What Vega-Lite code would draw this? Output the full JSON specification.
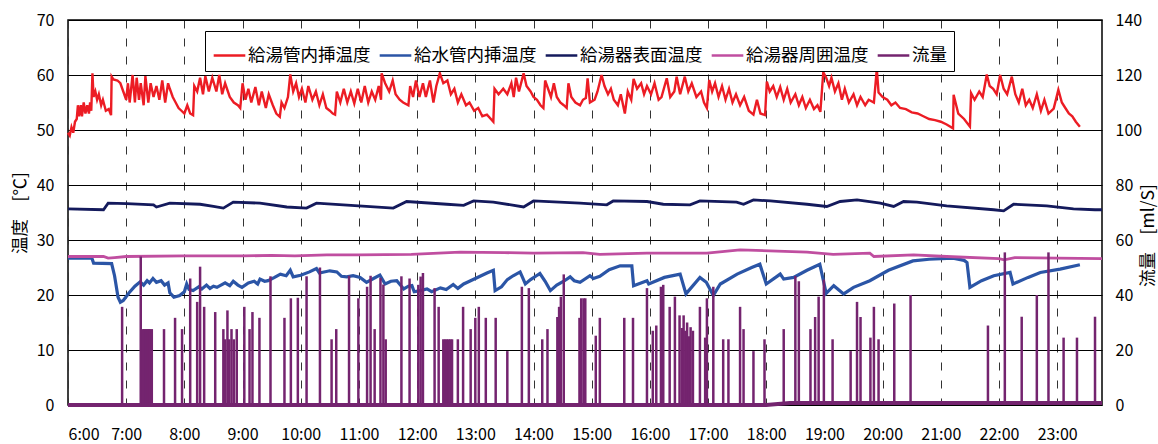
{
"$schema": "https://vega.github.io/schema/vega-lite/v6.json",
"width": 1034, "height": 385,
"autosize": {"type": "none"},
"padding": {"left": 68, "top": 20, "right": 56, "bottom": 39},
"background": "white",
"config": {
  "view": {"stroke": "black", "strokeWidth": 1.5},
  "font": "Noto Sans CJK JP",
  "axis": {"labelFont": "Noto Sans CJK JP", "titleFont": "Noto Sans CJK JP", "labelColor": "black", "titleColor": "black", "labelFontSize": 16, "titleFontSize": 17.5, "titleFontWeight": "normal", "domain": false, "ticks": false}
},
"datasets": {
"red": [
{"t":6.00,"v":49.5},{"t":6.03,"v":49.0},{"t":6.06,"v":50.5},{"t":6.09,"v":49.5},{"t":6.12,"v":51.5},{"t":6.15,"v":52},{"t":6.17,"v":54.5},{"t":6.19,"v":52.5},{"t":6.22,"v":54.5},{"t":6.24,"v":52.5},{"t":6.27,"v":55},{"t":6.30,"v":53},{"t":6.33,"v":54.5},{"t":6.36,"v":53},{"t":6.38,"v":55},{"t":6.40,"v":53.5},{"t":6.42,"v":60.3},{"t":6.44,"v":56},{"t":6.47,"v":57},{"t":6.50,"v":55.5},{"t":6.53,"v":56.5},{"t":6.57,"v":54.5},{"t":6.60,"v":55.5},{"t":6.65,"v":53.5},{"t":6.70,"v":53.8},{"t":6.74,"v":52.7},{"t":6.75,"v":59.7},{"t":6.78,"v":59.2},{"t":6.85,"v":59.0},{"t":6.90,"v":58.5},{"t":6.95,"v":57.0},{"t":7.00,"v":55.5},{"t":7.03,"v":58.5},{"t":7.06,"v":55},{"t":7.11,"v":60},{"t":7.15,"v":55},{"t":7.18,"v":59.5},{"t":7.22,"v":55.5},{"t":7.25,"v":58.5},{"t":7.30,"v":54.5},{"t":7.33,"v":59.8},{"t":7.38,"v":55},{"t":7.42,"v":58.5},{"t":7.47,"v":56},{"t":7.52,"v":58},{"t":7.57,"v":55.5},{"t":7.62,"v":59},{"t":7.67,"v":55},{"t":7.72,"v":58.5},{"t":7.75,"v":57.5},{"t":7.80,"v":56},{"t":7.85,"v":55},{"t":7.90,"v":54},{"t":7.95,"v":53.5},{"t":8.00,"v":53},{"t":8.05,"v":54.5},{"t":8.10,"v":53},{"t":8.15,"v":52.7},{"t":8.17,"v":58},{"t":8.22,"v":57},{"t":8.27,"v":59.5},{"t":8.32,"v":56.5},{"t":8.36,"v":59.8},{"t":8.42,"v":57},{"t":8.48,"v":59.5},{"t":8.55,"v":57},{"t":8.60,"v":60},{"t":8.65,"v":56.5},{"t":8.70,"v":58.5},{"t":8.78,"v":56},{"t":8.85,"v":55},{"t":8.92,"v":54.5},{"t":8.96,"v":54.0},{"t":9.00,"v":58.5},{"t":9.05,"v":55.5},{"t":9.10,"v":57.5},{"t":9.15,"v":55},{"t":9.22,"v":57.8},{"t":9.28,"v":54.5},{"t":9.33,"v":57},{"t":9.40,"v":54},{"t":9.45,"v":56.5},{"t":9.52,"v":54.5},{"t":9.58,"v":53},{"t":9.64,"v":52.4},{"t":9.67,"v":55},{"t":9.72,"v":54},{"t":9.78,"v":56},{"t":9.82,"v":60.1},{"t":9.87,"v":57},{"t":9.92,"v":58.5},{"t":9.97,"v":56},{"t":10.02,"v":57.5},{"t":10.08,"v":55},{"t":10.13,"v":58},{"t":10.20,"v":55.5},{"t":10.26,"v":57},{"t":10.32,"v":54.5},{"t":10.38,"v":56.5},{"t":10.44,"v":54},{"t":10.50,"v":53.5},{"t":10.55,"v":53},{"t":10.59,"v":52.8},{"t":10.62,"v":57},{"t":10.68,"v":55},{"t":10.74,"v":57.5},{"t":10.80,"v":55},{"t":10.86,"v":57},{"t":10.92,"v":54.8},{"t":10.98,"v":57.5},{"t":11.04,"v":55},{"t":11.10,"v":58},{"t":11.16,"v":55},{"t":11.22,"v":57},{"t":11.28,"v":55.5},{"t":11.34,"v":58},{"t":11.38,"v":55.5},{"t":11.39,"v":60.3},{"t":11.45,"v":58.5},{"t":11.52,"v":57},{"t":11.58,"v":59},{"t":11.63,"v":56.5},{"t":11.70,"v":55.5},{"t":11.76,"v":55},{"t":11.85,"v":54.5},{"t":11.88,"v":58},{"t":11.93,"v":56},{"t":11.98,"v":59},{"t":12.04,"v":56},{"t":12.10,"v":58.5},{"t":12.15,"v":56},{"t":12.22,"v":59},{"t":12.28,"v":55},{"t":12.33,"v":58},{"t":12.39,"v":60.3},{"t":12.45,"v":58.5},{"t":12.52,"v":59},{"t":12.58,"v":56.5},{"t":12.64,"v":57.5},{"t":12.70,"v":55},{"t":12.76,"v":56.5},{"t":12.84,"v":54.5},{"t":12.90,"v":55},{"t":12.98,"v":53.5},{"t":13.05,"v":54},{"t":13.12,"v":52.5},{"t":13.20,"v":52.8},{"t":13.31,"v":51.5},{"t":13.33,"v":57.5},{"t":13.40,"v":56.5},{"t":13.48,"v":57.5},{"t":13.55,"v":56.5},{"t":13.62,"v":58.5},{"t":13.66,"v":56},{"t":13.70,"v":59.5},{"t":13.75,"v":57},{"t":13.83,"v":60.3},{"t":13.88,"v":58},{"t":13.95,"v":57},{"t":14.00,"v":56},{"t":14.06,"v":55.5},{"t":14.12,"v":54.5},{"t":14.17,"v":54.0},{"t":14.20,"v":59},{"t":14.25,"v":57.5},{"t":14.30,"v":56},{"t":14.35,"v":58.5},{"t":14.40,"v":56},{"t":14.46,"v":55},{"t":14.52,"v":54.5},{"t":14.57,"v":54.0},{"t":14.60,"v":58.5},{"t":14.65,"v":56},{"t":14.72,"v":55},{"t":14.80,"v":54.5},{"t":14.85,"v":55.5},{"t":14.90,"v":55.8},{"t":14.93,"v":59.4},{"t":14.97,"v":55},{"t":15.05,"v":55.5},{"t":15.10,"v":57},{"t":15.17,"v":60},{"t":15.22,"v":58},{"t":15.28,"v":56.5},{"t":15.33,"v":57.5},{"t":15.38,"v":55.5},{"t":15.45,"v":54.5},{"t":15.50,"v":56.5},{"t":15.57,"v":53},{"t":15.62,"v":57},{"t":15.68,"v":55.5},{"t":15.72,"v":59.3},{"t":15.78,"v":57.5},{"t":15.85,"v":58.5},{"t":15.90,"v":56.5},{"t":15.95,"v":58},{"t":16.02,"v":56.5},{"t":16.08,"v":58.5},{"t":16.15,"v":55.5},{"t":16.20,"v":56},{"t":16.29,"v":59.4},{"t":16.35,"v":56},{"t":16.42,"v":57},{"t":16.46,"v":59.7},{"t":16.52,"v":56.5},{"t":16.60,"v":59.7},{"t":16.66,"v":57},{"t":16.72,"v":58.5},{"t":16.80,"v":56},{"t":16.88,"v":57},{"t":16.93,"v":55},{"t":16.98,"v":54},{"t":17.02,"v":59.1},{"t":17.07,"v":57},{"t":17.12,"v":58.5},{"t":17.18,"v":56},{"t":17.24,"v":58},{"t":17.30,"v":55.5},{"t":17.36,"v":57.5},{"t":17.42,"v":55},{"t":17.48,"v":56.5},{"t":17.55,"v":54.5},{"t":17.62,"v":56},{"t":17.70,"v":53.5},{"t":17.78,"v":52.8},{"t":17.84,"v":55.5},{"t":17.90,"v":53},{"t":17.98,"v":52.7},{"t":18.01,"v":58.8},{"t":18.06,"v":57},{"t":18.12,"v":58},{"t":18.18,"v":56},{"t":18.24,"v":57.8},{"t":18.30,"v":55.5},{"t":18.36,"v":57.5},{"t":18.42,"v":55},{"t":18.50,"v":56.5},{"t":18.56,"v":54.5},{"t":18.62,"v":56},{"t":18.68,"v":54},{"t":18.75,"v":55.5},{"t":18.82,"v":53.8},{"t":18.88,"v":54.5},{"t":18.93,"v":53.3},{"t":18.98,"v":60.5},{"t":19.03,"v":59.5},{"t":19.08,"v":58},{"t":19.12,"v":59.5},{"t":19.18,"v":57},{"t":19.24,"v":58.5},{"t":19.30,"v":55.5},{"t":19.35,"v":57.5},{"t":19.42,"v":55},{"t":19.50,"v":56.5},{"t":19.56,"v":54.5},{"t":19.62,"v":56},{"t":19.70,"v":54.5},{"t":19.76,"v":55.5},{"t":19.85,"v":55},{"t":19.90,"v":61.1},{"t":19.93,"v":56.8},{"t":20.00,"v":56},{"t":20.08,"v":55.5},{"t":20.15,"v":54.5},{"t":20.22,"v":55},{"t":20.30,"v":54},{"t":20.40,"v":53.8},{"t":20.50,"v":53.2},{"t":20.60,"v":53},{"t":20.70,"v":52.5},{"t":20.80,"v":52},{"t":20.90,"v":51.8},{"t":21.00,"v":51.5},{"t":21.10,"v":51},{"t":21.21,"v":50.3},{"t":21.22,"v":56.4},{"t":21.30,"v":53},{"t":21.40,"v":52},{"t":21.50,"v":50.6},{"t":21.52,"v":56.7},{"t":21.58,"v":55.5},{"t":21.66,"v":57},{"t":21.72,"v":56},{"t":21.79,"v":60.1},{"t":21.84,"v":58},{"t":21.90,"v":57.5},{"t":21.96,"v":56.5},{"t":22.02,"v":60},{"t":22.08,"v":57.5},{"t":22.14,"v":56.5},{"t":22.22,"v":59.7},{"t":22.28,"v":56.5},{"t":22.34,"v":55},{"t":22.40,"v":57.5},{"t":22.46,"v":54.5},{"t":22.52,"v":55.5},{"t":22.58,"v":54},{"t":22.65,"v":56.5},{"t":22.72,"v":53.5},{"t":22.78,"v":55.5},{"t":22.85,"v":53},{"t":22.94,"v":53.9},{"t":23.02,"v":57.3},{"t":23.08,"v":55},{"t":23.14,"v":54},{"t":23.20,"v":53},{"t":23.26,"v":52.5},{"t":23.32,"v":51.5},{"t":23.39,"v":50.6}
],
"blue": [
{"t":6.00,"v":26.7},{"t":6.41,"v":26.7},{"t":6.44,"v":25.8},{"t":6.75,"v":25.7},{"t":6.80,"v":23.5},{"t":6.86,"v":19.6},{"t":6.90,"v":18.7},{"t":6.95,"v":19.0},{"t":7.05,"v":20.4},{"t":7.15,"v":21.6},{"t":7.24,"v":22.4},{"t":7.30,"v":21.8},{"t":7.36,"v":22.6},{"t":7.40,"v":22.2},{"t":7.46,"v":23.0},{"t":7.52,"v":22.3},{"t":7.60,"v":22.6},{"t":7.66,"v":21.8},{"t":7.72,"v":22.2},{"t":7.75,"v":20.4},{"t":7.82,"v":19.6},{"t":7.92,"v":19.9},{"t":8.00,"v":20.6},{"t":8.04,"v":22.0},{"t":8.08,"v":21.0},{"t":8.15,"v":20.8},{"t":8.25,"v":21.5},{"t":8.30,"v":21.1},{"t":8.38,"v":21.8},{"t":8.44,"v":21.2},{"t":8.50,"v":21.6},{"t":8.56,"v":21.4},{"t":8.70,"v":22.2},{"t":8.78,"v":21.7},{"t":8.84,"v":22.5},{"t":8.92,"v":21.8},{"t":8.99,"v":21.4},{"t":9.10,"v":22.2},{"t":9.20,"v":22.5},{"t":9.26,"v":22.0},{"t":9.30,"v":22.9},{"t":9.38,"v":22.5},{"t":9.44,"v":22.6},{"t":9.55,"v":23.2},{"t":9.65,"v":23.8},{"t":9.75,"v":23.5},{"t":9.82,"v":24.5},{"t":9.87,"v":23.3},{"t":10.00,"v":23.6},{"t":10.15,"v":24.2},{"t":10.27,"v":24.8},{"t":10.32,"v":24.0},{"t":10.36,"v":24.1},{"t":10.50,"v":24.4},{"t":10.62,"v":24.2},{"t":10.70,"v":23.4},{"t":10.79,"v":23.3},{"t":10.90,"v":23.5},{"t":11.02,"v":23.2},{"t":11.13,"v":22.3},{"t":11.25,"v":23.0},{"t":11.36,"v":23.6},{"t":11.45,"v":22.0},{"t":11.55,"v":22.5},{"t":11.65,"v":22.6},{"t":11.77,"v":21.1},{"t":11.85,"v":21.6},{"t":11.91,"v":21.7},{"t":11.95,"v":20.6},{"t":12.05,"v":20.8},{"t":12.17,"v":21.1},{"t":12.25,"v":20.6},{"t":12.40,"v":21.3},{"t":12.50,"v":21.0},{"t":12.62,"v":21.9},{"t":12.70,"v":21.2},{"t":12.80,"v":22.0},{"t":12.90,"v":22.5},{"t":13.00,"v":23.0},{"t":13.10,"v":23.5},{"t":13.20,"v":24.0},{"t":13.31,"v":24.5},{"t":13.34,"v":20.8},{"t":13.45,"v":21.5},{"t":13.55,"v":22.8},{"t":13.65,"v":23.5},{"t":13.77,"v":24.2},{"t":13.86,"v":22.0},{"t":13.95,"v":22.8},{"t":14.05,"v":23.5},{"t":14.11,"v":23.9},{"t":14.20,"v":22.5},{"t":14.29,"v":20.8},{"t":14.40,"v":21.8},{"t":14.52,"v":22.5},{"t":14.63,"v":23.3},{"t":14.70,"v":22.6},{"t":14.80,"v":22.3},{"t":14.97,"v":23.5},{"t":15.03,"v":23.0},{"t":15.14,"v":23.4},{"t":15.30,"v":24.6},{"t":15.49,"v":25.3},{"t":15.69,"v":25.3},{"t":15.72,"v":21.7},{"t":15.95,"v":22.6},{"t":15.98,"v":22.0},{"t":16.25,"v":23.2},{"t":16.52,"v":23.8},{"t":16.62,"v":20.2},{"t":16.86,"v":23.2},{"t":16.97,"v":22.3},{"t":17.09,"v":19.9},{"t":17.21,"v":22.0},{"t":17.50,"v":23.8},{"t":17.75,"v":25.0},{"t":17.89,"v":25.6},{"t":18.00,"v":22.0},{"t":18.24,"v":23.8},{"t":18.30,"v":22.9},{"t":18.47,"v":23.2},{"t":18.70,"v":24.5},{"t":18.92,"v":25.6},{"t":19.03,"v":20.3},{"t":19.16,"v":21.7},{"t":19.33,"v":20.2},{"t":19.50,"v":21.4},{"t":19.78,"v":22.6},{"t":20.10,"v":24.5},{"t":20.52,"v":26.2},{"t":20.80,"v":26.5},{"t":21.21,"v":26.7},{"t":21.40,"v":26.3},{"t":21.45,"v":25.9},{"t":21.50,"v":21.4},{"t":21.70,"v":22.6},{"t":21.91,"v":23.5},{"t":22.19,"v":24.1},{"t":22.24,"v":22.0},{"t":22.50,"v":23.2},{"t":22.71,"v":24.1},{"t":23.05,"v":24.7},{"t":23.39,"v":25.5}
],
"navy": [
{"t":6.00,"v":35.65},{"t":6.61,"v":35.5},{"t":6.69,"v":36.7},{"t":7.01,"v":36.6},{"t":7.47,"v":36.4},{"t":7.52,"v":36.0},{"t":7.75,"v":36.7},{"t":8.27,"v":36.5},{"t":8.50,"v":36.1},{"t":8.67,"v":35.8},{"t":8.84,"v":36.9},{"t":9.30,"v":36.7},{"t":9.76,"v":36.0},{"t":10.10,"v":35.8},{"t":10.27,"v":36.7},{"t":10.73,"v":36.4},{"t":11.59,"v":35.8},{"t":11.82,"v":37.0},{"t":12.51,"v":36.5},{"t":12.80,"v":36.3},{"t":12.97,"v":37.1},{"t":13.31,"v":36.9},{"t":13.83,"v":36.0},{"t":14.00,"v":37.1},{"t":14.80,"v":36.7},{"t":15.26,"v":36.4},{"t":15.37,"v":37.1},{"t":15.95,"v":37.0},{"t":16.23,"v":36.5},{"t":16.69,"v":36.4},{"t":16.86,"v":37.1},{"t":17.49,"v":36.9},{"t":17.61,"v":36.5},{"t":17.78,"v":37.3},{"t":18.07,"v":37.1},{"t":18.70,"v":36.5},{"t":19.04,"v":36.1},{"t":19.27,"v":37.0},{"t":19.56,"v":37.3},{"t":19.96,"v":36.7},{"t":20.19,"v":36.1},{"t":20.36,"v":37.0},{"t":20.59,"v":36.9},{"t":21.10,"v":36.2},{"t":21.91,"v":35.5},{"t":22.08,"v":35.3},{"t":22.25,"v":36.5},{"t":22.82,"v":36.2},{"t":23.28,"v":35.65},{"t":23.65,"v":35.5},{"t":23.77,"v":35.5}
],
"pink": [
{"t":6.00,"v":27.0},{"t":6.61,"v":27.0},{"t":6.69,"v":26.7},{"t":6.80,"v":26.8},{"t":7.00,"v":27.0},{"t":8.00,"v":27.1},{"t":9.00,"v":27.1},{"t":9.50,"v":27.2},{"t":9.90,"v":27.1},{"t":10.45,"v":27.3},{"t":11.00,"v":27.3},{"t":11.90,"v":27.4},{"t":12.74,"v":27.8},{"t":13.50,"v":27.7},{"t":14.00,"v":27.6},{"t":14.85,"v":27.7},{"t":15.14,"v":27.4},{"t":15.95,"v":27.6},{"t":16.98,"v":27.6},{"t":17.55,"v":28.2},{"t":18.70,"v":27.8},{"t":19.15,"v":27.4},{"t":19.78,"v":27.6},{"t":19.85,"v":27.0},{"t":20.53,"v":27.3},{"t":21.10,"v":27.0},{"t":22.00,"v":26.6},{"t":22.09,"v":26.4},{"t":22.27,"v":26.8},{"t":23.00,"v":26.7},{"t":23.77,"v":26.6}
],
"base": [
{"t":6.00,"v":0},{"t":18.00,"v":0},{"t":18.40,"v":0.7},{"t":23.77,"v":0.7}
],
"flow": [
{"t":6.93,"v":35.7},{"t":7.25,"v":54},{"t":7.29,"v":27.6},{"t":7.31,"v":27.6},{"t":7.33,"v":27.6},{"t":7.35,"v":27.6},{"t":7.37,"v":27.6},{"t":7.39,"v":27.6},{"t":7.41,"v":27.6},{"t":7.44,"v":27.6},{"t":7.65,"v":27.6},{"t":7.84,"v":31.7},{"t":7.96,"v":27.6},{"t":8.10,"v":46},{"t":8.22,"v":37.5},{"t":8.27,"v":50.3},{"t":8.34,"v":35.7},{"t":8.53,"v":33.8},{"t":8.67,"v":27.6},{"t":8.70,"v":23.9},{"t":8.74,"v":34.4},{"t":8.77,"v":23.9},{"t":8.81,"v":27.6},{"t":8.85,"v":23.9},{"t":8.90,"v":27.6},{"t":9.03,"v":35.7},{"t":9.12,"v":27.6},{"t":9.17,"v":33.8},{"t":9.29,"v":31.7},{"t":9.48,"v":46.8},{"t":9.72,"v":31.7},{"t":9.83,"v":38.8},{"t":9.95,"v":39},{"t":10.10,"v":46.8},{"t":10.33,"v":50},{"t":10.53,"v":23.9},{"t":10.61,"v":27.6},{"t":10.83,"v":47},{"t":10.99,"v":38.8},{"t":11.14,"v":43},{"t":11.20,"v":47},{"t":11.27,"v":27.6},{"t":11.37,"v":46.2},{"t":11.42,"v":43.8},{"t":11.46,"v":23.9},{"t":11.73,"v":46.8},{"t":11.87,"v":46},{"t":12.02,"v":43.7},{"t":12.06,"v":46.7},{"t":12.10,"v":48},{"t":12.30,"v":42.5},{"t":12.37,"v":35.7},{"t":12.45,"v":23.9},{"t":12.48,"v":23.9},{"t":12.51,"v":23.9},{"t":12.54,"v":23.9},{"t":12.57,"v":23.9},{"t":12.60,"v":23.9},{"t":12.70,"v":23.9},{"t":12.79,"v":35.7},{"t":12.92,"v":27.6},{"t":13.00,"v":31.7},{"t":13.06,"v":35.7},{"t":13.18,"v":31.7},{"t":13.35,"v":31.7},{"t":13.55,"v":19.6},{"t":13.80,"v":43},{"t":13.92,"v":42.5},{"t":14.15,"v":23.9},{"t":14.24,"v":27.6},{"t":14.41,"v":32},{"t":14.44,"v":35.7},{"t":14.47,"v":39.4},{"t":14.52,"v":47.5},{"t":14.79,"v":31.7},{"t":14.82,"v":38.8},{"t":14.86,"v":38.8},{"t":14.89,"v":38.8},{"t":15.07,"v":25.2},{"t":15.14,"v":31.7},{"t":15.56,"v":31.7},{"t":15.71,"v":31.7},{"t":15.95,"v":42.5},{"t":16.05,"v":27},{"t":16.11,"v":28.9},{"t":16.19,"v":43},{"t":16.23,"v":43.7},{"t":16.34,"v":35.7},{"t":16.43,"v":39.4},{"t":16.51,"v":32.6},{"t":16.55,"v":28},{"t":16.58,"v":32.6},{"t":16.61,"v":27},{"t":16.64,"v":30},{"t":16.67,"v":25},{"t":16.70,"v":28.3},{"t":16.74,"v":27},{"t":16.86,"v":35.7},{"t":16.95,"v":24.5},{"t":16.98,"v":38.8},{"t":17.09,"v":43},{"t":17.26,"v":23.9},{"t":17.35,"v":23.9},{"t":17.55,"v":35.7},{"t":17.61,"v":27.6},{"t":17.78,"v":19.6},{"t":17.97,"v":23.9},{"t":18.30,"v":27.6},{"t":18.50,"v":46.9},{"t":18.56,"v":45},{"t":18.76,"v":27.6},{"t":18.84,"v":32},{"t":18.90,"v":39.4},{"t":18.99,"v":45.6},{"t":19.14,"v":23.9},{"t":19.45,"v":19.6},{"t":19.56,"v":37.5},{"t":19.62,"v":32},{"t":19.79,"v":24.5},{"t":19.85,"v":35.7},{"t":19.93,"v":23.9},{"t":20.20,"v":36.9},{"t":20.48,"v":40},{"t":21.81,"v":28.9},{"t":22.10,"v":55.5},{"t":22.39,"v":32.1},{"t":22.65,"v":40},{"t":22.85,"v":55.5},{"t":23.11,"v":24.5},{"t":23.34,"v":24.5},{"t":23.65,"v":32.1}
]
},
"resolve": {"scale": {"y": "independent"}},
"layer": [
{
 "layer": [
  {"data": {"name": "red"}, "mark": {"type": "line", "strokeWidth": 2.4},
   "encoding": {
    "x": {"field": "t", "type": "quantitative", "scale": {"domain": [6, 23.77], "nice": false, "zero": false},
          "axis": {"values": [6,7,8,9,10,11,12,13,14,15,16,17,18,19,20,21,22,23], "labelExpr": "datum.value + ':00'", "grid": true, "gridDash": [8, 10], "gridColor": "#333333", "gridWidth": 1, "labelPadding": 21, "title": null}},
    "y": {"field": "v", "type": "quantitative", "scale": {"domain": [0, 70], "nice": false, "zero": true},
          "axis": {"values": [0,10,20,30,40,50,60,70], "grid": true, "gridColor": "black", "gridWidth": 1, "labelPadding": 14, "title": "温度　[℃]", "titleAngle": 270, "titleX": -48, "titleY": 192.5, "titleAlign": "center", "titleBaseline": "middle"}},
    "color": {"datum": "給湯管内挿温度", "type": "nominal",
      "scale": {"domain": ["給湯管内挿温度","給水管内挿温度","給湯器表面温度","給湯器周囲温度","流量"], "range": ["#ec1c24","#2b55a6","#141a5c","#c04ea0","#74246f"]},
      "legend": {"orient": "none", "legendX": 137, "legendY": 11, "direction": "horizontal", "title": null, "symbolType": "stroke", "symbolSize": 1000, "symbolStrokeWidth": 2.5, "labelFontSize": 17.5, "labelFont": "Noto Sans CJK JP", "labelColor": "black", "labelOffset": 1, "columnPadding": 3, "padding": 7, "strokeColor": "black", "fillColor": "white", "labelLimit": 300}}
   }},
  {"data": {"name": "blue"}, "mark": {"type": "line", "strokeWidth": 3.2},
   "encoding": {"x": {"field": "t", "type": "quantitative"}, "y": {"field": "v", "type": "quantitative"}, "color": {"datum": "給水管内挿温度", "type": "nominal"}}},
  {"data": {"name": "navy"}, "mark": {"type": "line", "strokeWidth": 2.8},
   "encoding": {"x": {"field": "t", "type": "quantitative"}, "y": {"field": "v", "type": "quantitative"}, "color": {"datum": "給湯器表面温度", "type": "nominal"}}},
  {"data": {"name": "pink"}, "mark": {"type": "line", "strokeWidth": 2.8},
   "encoding": {"x": {"field": "t", "type": "quantitative"}, "y": {"field": "v", "type": "quantitative"}, "color": {"datum": "給湯器周囲温度", "type": "nominal"}}}
 ]
},
{
 "layer": [
  {"data": {"name": "base"}, "mark": {"type": "line", "strokeWidth": 4},
   "encoding": {"x": {"field": "t", "type": "quantitative"},
    "y": {"field": "v", "type": "quantitative", "scale": {"domain": [0, 140], "nice": false},
          "axis": {"orient": "right", "values": [0,20,40,60,80,100,120,140], "grid": false, "labelPadding": 13, "title": "流量　[ml/S]", "titleAngle": 270, "titleX": 46, "titleY": 215, "titleAlign": "center", "titleBaseline": "middle"}},
    "color": {"datum": "流量", "type": "nominal"}}},
  {"data": {"name": "flow"}, "mark": {"type": "rule", "strokeWidth": 2.5},
   "encoding": {"x": {"field": "t", "type": "quantitative"}, "y": {"field": "v", "type": "quantitative"}, "y2": {"datum": 0}, "color": {"datum": "流量", "type": "nominal"}}}
 ]
}
]
}
